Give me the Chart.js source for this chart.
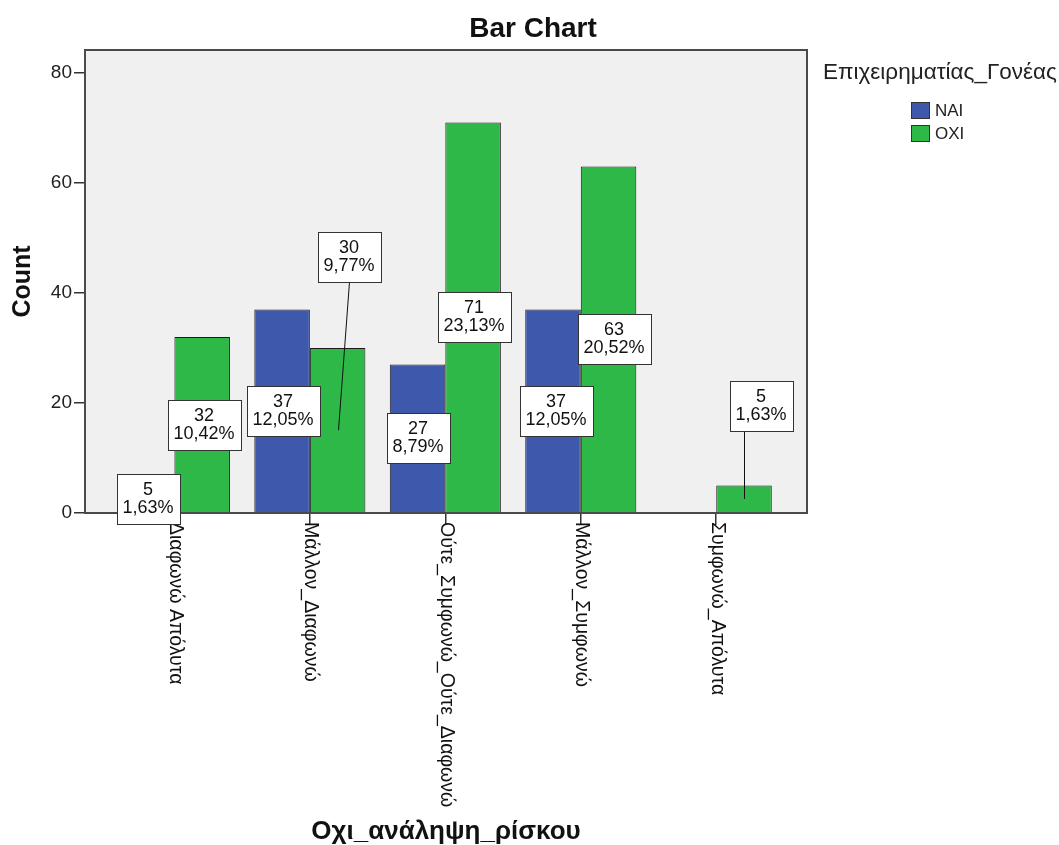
<!DOCTYPE html>
<html>
<head>
<meta charset="utf-8">
<script src="https://cdn.jsdelivr.net/npm/chart.js@4/dist/chart.umd.min.js"></script>
<style>
body { margin: 0; background: #fff; }
#wrap { width: 1059px; height: 845px; }
</style>
</head>
<body>
<div id="wrap"><canvas id="bar-chart" width="1059" height="845"></canvas></div>
<script>
var categories = ['Διαφωνώ Απόλυτα', 'Μάλλον_Διαφωνώ', 'Ούτε_Συμφωνώ_Ούτε_Διαφωνώ', 'Μάλλον_Συμφωνώ', 'Συμφωνώ_Απόλυτα'];
var seriesNames = ['NAI', 'OXI'];
var naiCounts = [5, 37, 27, 37, null];
var oxiCounts = [32, 30, 71, 63, 5];
var yTicks = [0, 20, 40, 60, 80];

// where SPSS pushed a label box away from its bar: [dx, dy, line top dx]
var naiLabelShift = [[1, 0, 0], [1, 0, 0], [0, 0, 0], [3, 0, 0], [0, 0, 0]];
var oxiLabelShift = [[2, 0, 0], [11, -173, 11], [1, 0, 0], [5, 0, 0], [17, -93, 0]];

var FONT = "'Liberation Sans', Arial, sans-serif";
var total = 0;
naiCounts.concat(oxiCounts).forEach(function(v) { if (v) total += v; });

function toPoints(arr) {
  return arr.map(function(v, i) { return { x: i, y: v }; });
}

var plotFrame = {
  id: 'plotFrame',
  beforeDraw: function(chart) {
    var a = chart.chartArea, ctx = chart.ctx;
    ctx.save();
    ctx.fillStyle = '#f0f0f0';
    ctx.fillRect(a.left, a.top, a.right - a.left, a.bottom - a.top);
    ctx.restore();
  },
  beforeDatasetsDraw: function(chart) {
    var a = chart.chartArea, ctx = chart.ctx;
    ctx.save();
    ctx.strokeStyle = '#4a4a4a';
    ctx.lineWidth = 2;
    ctx.strokeRect(a.left, a.top, a.right - a.left, a.bottom - a.top);
    ctx.restore();
  },
  afterDraw: function(chart) {
    var ctx = chart.ctx, xs = chart.scales.x, a = chart.chartArea;
    ctx.save();
    // title, centred on the whole picture
    ctx.fillStyle = '#111';
    ctx.font = 'bold 28px ' + FONT;
    ctx.textAlign = 'center';
    ctx.textBaseline = 'alphabetic';
    ctx.fillText('Bar Chart', 533, 37);

    // category labels, turned clockwise like SPSS
    ctx.font = '19.5px ' + FONT;
    ctx.textAlign = 'left';
    ctx.textBaseline = 'middle';
    categories.forEach(function(c, i) {
      ctx.save();
      ctx.translate(xs.getPixelForValue(i) + 1, a.bottom + 9);
      ctx.rotate(Math.PI / 2);
      ctx.fillText(c, 0, 0);
      ctx.restore();
    });

    // count / percent boxes
    var shifts = [naiLabelShift, oxiLabelShift];
    ctx.font = '18px ' + FONT;
    chart.data.datasets.forEach(function(ds, di) {
      var meta = chart.getDatasetMeta(di);
      meta.data.forEach(function(bar, i) {
        var v = ds.data[i].y;
        if (v == null) return;
        var mid = (bar.y + bar.base) / 2;
        var sh = shifts[di][i];
        var cx = Math.round(bar.x + sh[0]), cy = Math.round(mid + sh[1]);
        var l1 = String(v);
        var l2 = (v / total * 100).toFixed(2).replace('.', ',') + '%';
        var w = Math.round(Math.max(ctx.measureText(l1).width, ctx.measureText(l2).width) + 12);
        var h = 50;
        if (sh[1] !== 0) {
          ctx.strokeStyle = '#111';
          ctx.lineWidth = 1;
          ctx.beginPath();
          ctx.moveTo(Math.round(bar.x) + 0.5, mid);
          ctx.lineTo(Math.round(bar.x + sh[2]) + 0.5, cy + h / 2);
          ctx.stroke();
        }
        var bx = Math.round(cx - w / 2) + 0.5, by = Math.round(cy - h / 2) + 0.5;
        ctx.fillStyle = '#fff';
        ctx.fillRect(bx, by, w, h);
        ctx.strokeStyle = '#333';
        ctx.lineWidth = 1;
        ctx.strokeRect(bx, by, w, h);
        ctx.fillStyle = '#111';
        ctx.textAlign = 'center';
        ctx.textBaseline = 'middle';
        ctx.fillText(l1, cx, cy - 9);
        ctx.fillText(l2, cx, cy + 9);
      });
    });

    // legend
    var title = 'Επιχειρηματίας_Γονέας';
    ctx.font = '22.5px ' + FONT;
    ctx.textAlign = 'left';
    ctx.textBaseline = 'alphabetic';
    ctx.fillStyle = '#222';
    var tx = 823;
    ctx.fillText(title, tx, 79);
    var tMid = tx + ctx.measureText(title).width / 2;
    ctx.font = '17px ' + FONT;
    var maxW = 0;
    seriesNames.forEach(function(n) { maxW = Math.max(maxW, ctx.measureText(n).width); });
    var left = Math.round(tMid - (19 + 5 + maxW) / 2) - 2;
    chart.data.datasets.forEach(function(ds, di) {
      var y = 102 + di * 23;
      ctx.fillStyle = ds.backgroundColor;
      ctx.fillRect(left + 0.5, y + 0.5, 18, 16);
      ctx.strokeStyle = '#333';
      ctx.strokeRect(left + 0.5, y + 0.5, 18, 16);
      ctx.fillStyle = '#222';
      ctx.textBaseline = 'middle';
      ctx.fillText(ds.label, left + 24, y + 9);
    });
    ctx.restore();
  }
};

var ctx = document.getElementById('bar-chart');
var chart = new Chart(ctx, {
  type: 'bar',
  data: {
    datasets: [
      {
        label: seriesNames[0],
        data: toPoints(naiCounts),
        backgroundColor: '#3e58ac',
        borderColor: '#1a1a1a',
        borderWidth: 1
      },
      {
        label: seriesNames[1],
        data: toPoints(oxiCounts),
        backgroundColor: '#2eb848',
        borderColor: '#1a1a1a',
        borderWidth: 1
      }
    ]
  },
  options: {
    responsive: false,
    animation: false,
    events: [],
    categoryPercentage: 0.82,
    barPercentage: 1,
    layout: { padding: { top: 50, right: 252, left: 0, bottom: 0 } },
    plugins: {
      legend: { display: false },
      tooltip: { enabled: false },
      title: { display: false }
    },
    scales: {
      x: {
        type: 'linear',
        offset: false,
        min: -0.66,
        max: 4.67,
        afterBuildTicks: function(scale) {
          scale.ticks = categories.map(function(c, i) { return { value: i }; });
        },
        afterFit: function(scale) { scale.height = 332; },
        ticks: { display: false },
        grid: { offset: false, drawOnChartArea: false, drawTicks: true, tickLength: 12, color: '#333', lineWidth: 1.5 },
        border: { display: false },
        title: {
          display: true,
          text: 'Οχι_ανάληψη_ρίσκου',
          color: '#111',
          font: { family: FONT, size: 26, weight: 'bold', lineHeight: 1 },
          padding: { top: 0, bottom: 0 }
        }
      },
      y: {
        min: 0,
        max: 84.2,
        afterBuildTicks: function(scale) {
          scale.ticks = yTicks.map(function(v) { return { value: v }; });
        },
        afterFit: function(scale) { scale.width = 85; },
        ticks: { color: '#222', font: { family: FONT, size: 19 }, padding: 2 },
        grid: { drawOnChartArea: false, drawTicks: true, tickLength: 11, color: '#333', lineWidth: 1.5 },
        border: { display: false },
        title: {
          display: true,
          text: 'Count',
          color: '#111',
          font: { family: FONT, size: 25, weight: 'bold', lineHeight: 1.2 },
          padding: { top: 8, bottom: 0 }
        }
      }
    }
  },
  plugins: [plotFrame]
});
</script>
</body>
</html>
